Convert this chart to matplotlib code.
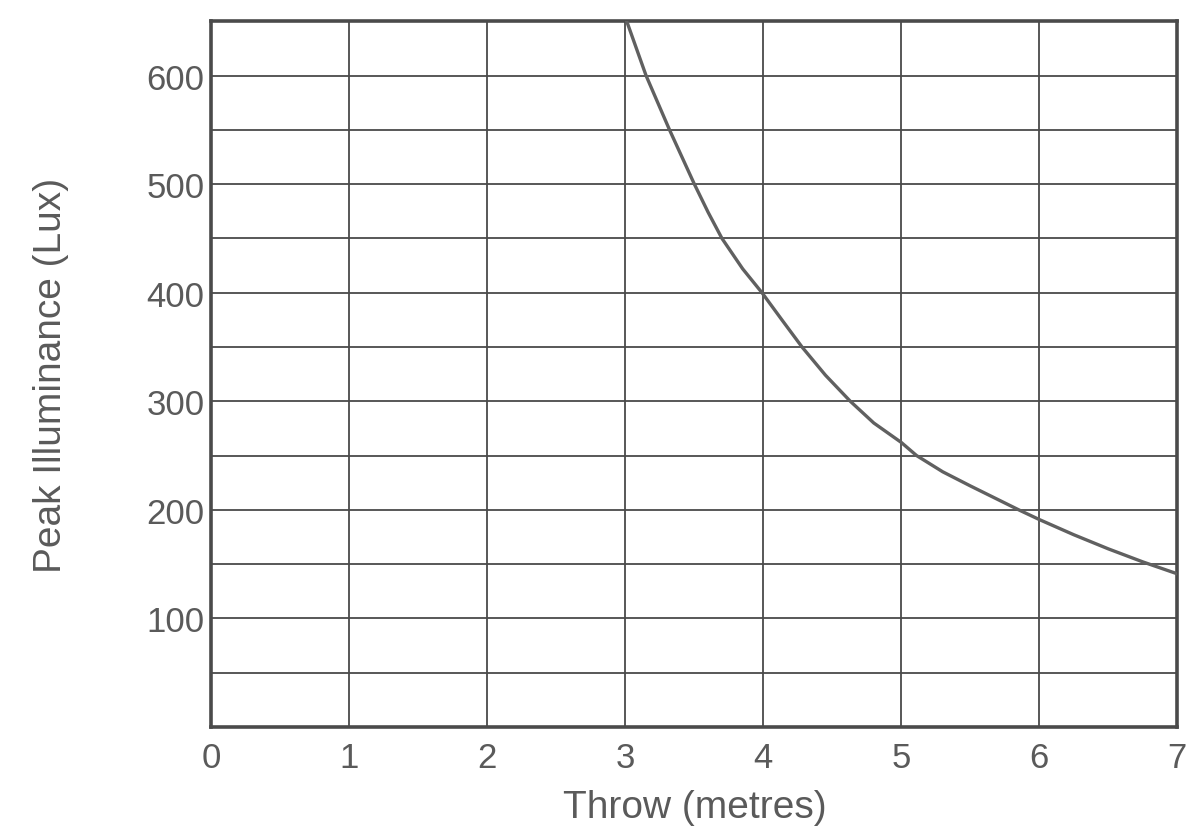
import matplotlib
matplotlib.use("Agg")
import matplotlib.pyplot as plt

# values (throw in metres, peak illuminance in lux)
throw_m = [3.01, 3.15, 3.32, 3.50, 3.60, 3.70, 3.85, 3.99, 4.14, 4.28, 4.45, 4.63,
           4.80, 5.00, 5.11, 5.30, 5.50, 5.85, 6.00, 6.25, 6.50, 6.75, 7.00]
lux = [650, 600, 550, 500, 474, 450, 422, 400, 374, 350, 324, 300,
       280, 262, 250, 235, 222, 200, 191, 177, 164, 152, 141]

x_ticks = [0, 1, 2, 3, 4, 5, 6, 7]
y_grid = list(range(0, 651, 50))
y_labels = {100: "100", 200: "200", 300: "300", 400: "400", 500: "500", 600: "600"}

INK = "#4a4a4a"
TEXT = "#5a5a5a"

plt.rcParams["font.family"] = ["Liberation Sans", "DejaVu Sans"]

fig = plt.figure(figsize=(11.88, 8.29), dpi=100)
ax = fig.add_axes([0.178, 0.122, 0.813, 0.851])

ax.plot(throw_m, lux, color="#606060", linewidth=2.4, solid_joinstyle="round", zorder=3)

ax.set_xlim(0, 7)
ax.set_ylim(0, 650)
ax.set_xticks(x_ticks)
ax.set_xticklabels([str(t) for t in x_ticks])
ax.set_yticks(y_grid)
ax.set_yticklabels([y_labels.get(v, "") for v in y_grid])
ax.tick_params(length=0, labelsize=25, colors=TEXT)
ax.tick_params(axis="x", pad=10)
ax.tick_params(axis="y", pad=5)

ax.grid(True, color=INK, linewidth=1.3)
ax.set_axisbelow(True)
for side in ax.spines.values():
    side.set_color(INK)
    side.set_linewidth(2.6)

ax.set_xlabel("Throw (metres)", fontsize=28, color=TEXT, labelpad=11)
ax.set_ylabel("Peak Illuminance (Lux)", fontsize=28, color=TEXT, labelpad=56)

fig.savefig("out.png", dpi=100, facecolor="white")
